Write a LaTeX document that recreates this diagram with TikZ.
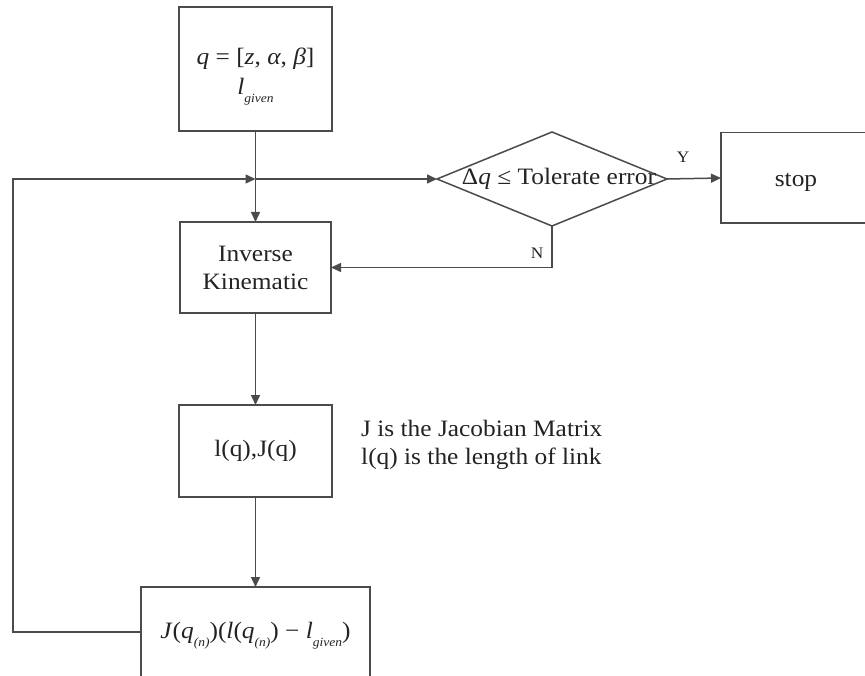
\documentclass[tikz,border=0pt]{standalone}
\usepackage{fontspec}
\setmainfont[FakeStretch=1.08]{Liberation Serif}
\usetikzlibrary{shapes.geometric,arrows.meta,positioning}
\definecolor{linegray}{RGB}{75,75,75}
\definecolor{textgray}{RGB}{35,35,35}
\newcommand{\lowsub}[1]{\raisebox{-8pt}{\fontsize{12.5}{12.5}\selectfont\itshape #1}}
\tikzset{
  box/.style  ={rectangle, draw=linegray, line width=1.5pt, inner sep=0pt, outer sep=0pt,
                align=center, text=textgray},
  dec/.style  ={diamond, draw=linegray, line width=1.5pt, inner sep=0pt, outer sep=0pt,
                minimum width=230pt, minimum height=94pt},
  flow/.style ={-{Triangle[length=10pt,width=9pt]}, line width=1.5pt, draw=linegray},
  lbl/.style  ={font=\fontsize{16}{16}\selectfont, text=textgray, inner sep=0pt}
}
\begin{document}
\begin{tikzpicture}[x=1pt,y=-1pt,font=\fontsize{23.5}{28}\selectfont]
\useasboundingbox (0,0) rectangle (865,676);
% Boxes
\node[box, minimum width=153pt, minimum height=124pt] (init) at (255.5,69)
  {\rule{0pt}{31pt}\textit{q} = [\textit{z}, \textit{α}, \textit{β}]\\[2pt] \textit{l}\lowsub{given}};
\node[box, minimum width=151pt, minimum height=91pt] (inv) at (255.5,267.5) {Inverse\\Kinematic};
\node[box, minimum width=153pt, minimum height=92pt] (lj) at (255.5,451) {l(q),J(q)};
\node[box, minimum width=229pt, minimum height=90pt] (upd) at (255.5,632)
  {\rule{0pt}{24pt}\textit{J}(\textit{q}\lowsub{(n)})(\textit{l}(\textit{q}\lowsub{(n)}) − \textit{l}\lowsub{given})};
\node[box, minimum width=150pt, minimum height=90.5pt] (stop) at (796,178) {\rule{0pt}{22pt}stop};
\node[dec, label={[text=textgray, xshift=7pt]center:{Δ\textit{q} ≤ Tolerate error}}] (chk) at (552,179) {};
\node[anchor=west, align=left, text=textgray, inner sep=0pt] (note) at (361,445)
  {J is the Jacobian Matrix\\l(q) is the length of link};
% Connectors
\coordinate (jn) at (init.south |- chk.west);
\draw[flow] (init) -- (inv);
\draw[flow] (jn) -- (chk.west);
\draw[flow] (chk.east) -- node[lbl, xshift=-11pt, yshift=21pt]{Y} (stop.west);
\draw[flow] (chk.south) |- node[lbl, pos=0.5, xshift=-15pt, yshift=14pt]{N} (inv.east);
\draw[flow] (inv) -- (lj);
\draw[flow] (lj) -- (upd);
\draw[flow] (upd.west) -- ++(-128,0) |- (jn);
\end{tikzpicture}
\end{document}
